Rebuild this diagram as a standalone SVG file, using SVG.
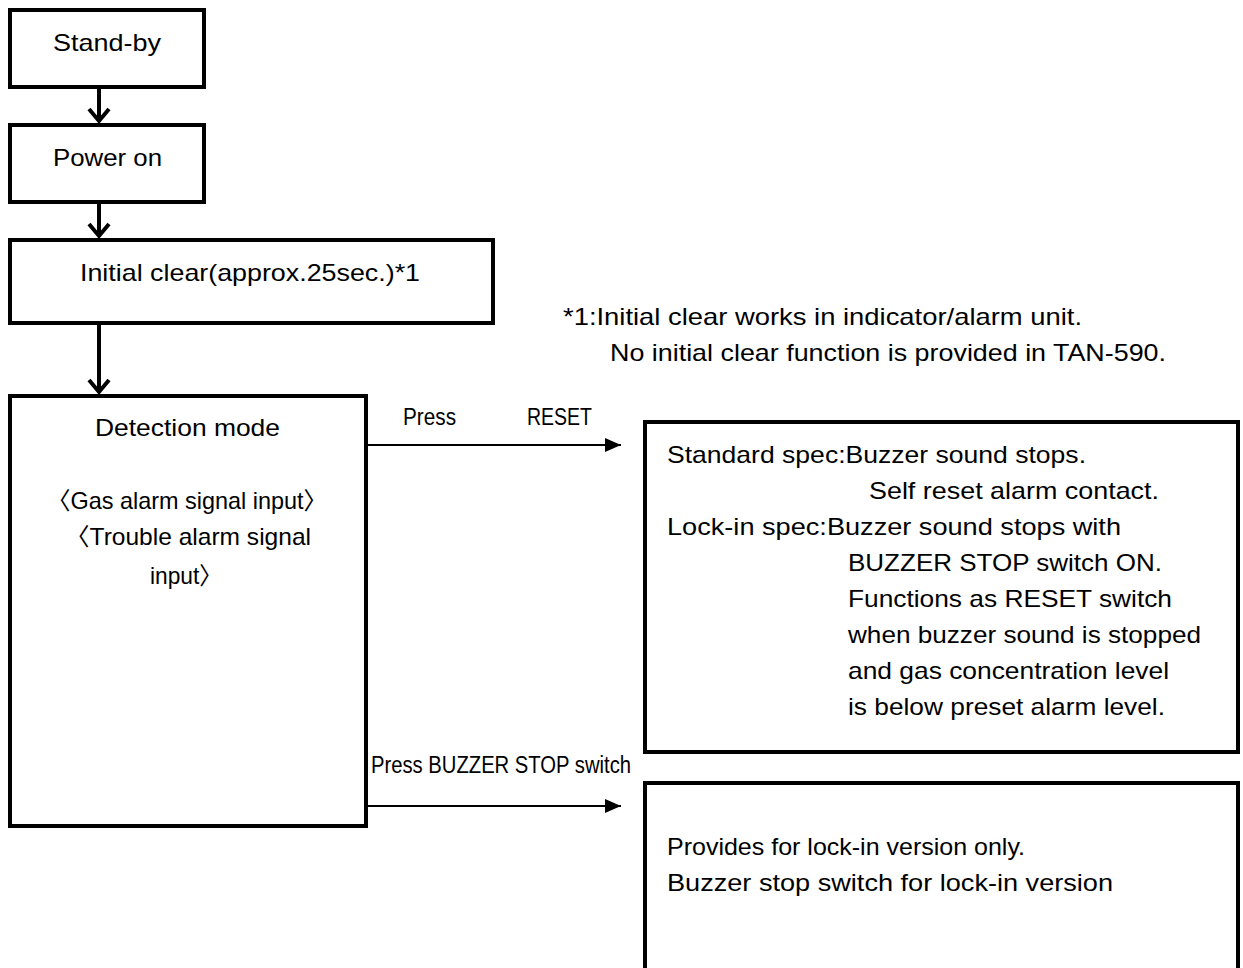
<svg xmlns="http://www.w3.org/2000/svg" width="1243" height="968" viewBox="0 0 1243 968">
<style>
.box{fill:#fff;stroke:#000;stroke-width:4}
.t{font-family:"Liberation Sans","Noto Sans CJK JP",sans-serif;font-size:24px;fill:#000}
.n{font-family:"Liberation Sans","Noto Sans CJK JP",sans-serif;font-size:23px;fill:#000}
.v{stroke:#000;stroke-width:4;fill:none}
.h{stroke:#000;stroke-width:2;fill:none}
</style>
<defs>
<marker id="tri" viewBox="0 0 16 14" refX="16" refY="7" markerWidth="16" markerHeight="14" markerUnits="userSpaceOnUse" orient="auto">
<path d="M0,0 L16,7 L0,14 Z" fill="#000"/>
</marker>
</defs>
<g id="connectors">
<path class="v" d="M99,87 V120"/>
<path class="v" d="M99,202 V235"/>
<path class="v" d="M99,323 V391"/>
<path class="v" d="M89,109 L99,121 L109,109"/>
<path class="v" d="M89,224 L99,236 L109,224"/>
<path class="v" d="M89,380 L99,392 L109,380"/>
<path class="h" d="M366,445 H621" marker-end="url(#tri)"/>
<path class="h" d="M366,806 H621" marker-end="url(#tri)"/>
<text class="n" x="403" y="425" textLength="53" lengthAdjust="spacingAndGlyphs">Press</text>
<text class="n" x="527" y="425" textLength="65" lengthAdjust="spacingAndGlyphs">RESET</text>
<text class="n" x="371" y="773" textLength="260" lengthAdjust="spacingAndGlyphs">Press BUZZER STOP switch</text>
</g>
<g id="standby">
<rect class="box" x="10" y="10" width="194" height="77"/>
<text class="t" x="53" y="51" textLength="108" lengthAdjust="spacingAndGlyphs">Stand-by</text>
</g>
<g id="poweron">
<rect class="box" x="10" y="125" width="194" height="77"/>
<text class="t" x="53" y="166" textLength="109" lengthAdjust="spacingAndGlyphs">Power on</text>
</g>
<g id="initialclear">
<rect class="box" x="10" y="240" width="483" height="83"/>
<text class="t" x="80" y="281" textLength="340" lengthAdjust="spacingAndGlyphs">Initial clear(approx.25sec.)*1</text>
</g>
<g id="note">
<text class="t" x="563" y="325" textLength="519" lengthAdjust="spacingAndGlyphs">*1:Initial clear works in indicator/alarm unit.</text>
<text class="t" x="610" y="361" textLength="556" lengthAdjust="spacingAndGlyphs">No initial clear function is provided in TAN-590.</text>
</g>
<g id="detection">
<rect class="box" x="10" y="396" width="356" height="430"/>
<text class="t" x="95" y="436" textLength="185" lengthAdjust="spacingAndGlyphs">Detection mode</text>
<text class="t" x="47" y="509" textLength="280" lengthAdjust="spacingAndGlyphs">〈Gas alarm signal input〉</text>
<text class="t" x="65" y="545" textLength="246" lengthAdjust="spacingAndGlyphs">〈Trouble alarm signal</text>
<text class="t" x="150" y="584" textLength="72" lengthAdjust="spacingAndGlyphs">input〉</text>
</g>
<g id="reset-box">
<rect class="box" x="645" y="422" width="593" height="330"/>
<text class="t" x="667" y="463" textLength="419" lengthAdjust="spacingAndGlyphs">Standard spec:Buzzer sound stops.</text>
<text class="t" x="869" y="499" textLength="290" lengthAdjust="spacingAndGlyphs">Self reset alarm contact.</text>
<text class="t" x="667" y="535" textLength="454" lengthAdjust="spacingAndGlyphs">Lock-in spec:Buzzer sound stops with</text>
<text class="t" x="848" y="571" textLength="314" lengthAdjust="spacingAndGlyphs">BUZZER STOP switch ON.</text>
<text class="t" x="848" y="607" textLength="324" lengthAdjust="spacingAndGlyphs">Functions as RESET switch</text>
<text class="t" x="848" y="643" textLength="353" lengthAdjust="spacingAndGlyphs">when buzzer sound is stopped</text>
<text class="t" x="848" y="679" textLength="321" lengthAdjust="spacingAndGlyphs">and gas concentration level</text>
<text class="t" x="848" y="715" textLength="317" lengthAdjust="spacingAndGlyphs">is below preset alarm level.</text>
</g>
<g id="buzzer-box">
<rect class="box" x="645" y="783" width="593" height="200"/>
<text class="t" x="667" y="855" textLength="358" lengthAdjust="spacingAndGlyphs">Provides for lock-in version only.</text>
<text class="t" x="667" y="891" textLength="446" lengthAdjust="spacingAndGlyphs">Buzzer stop switch for lock-in version</text>
</g>
</svg>
